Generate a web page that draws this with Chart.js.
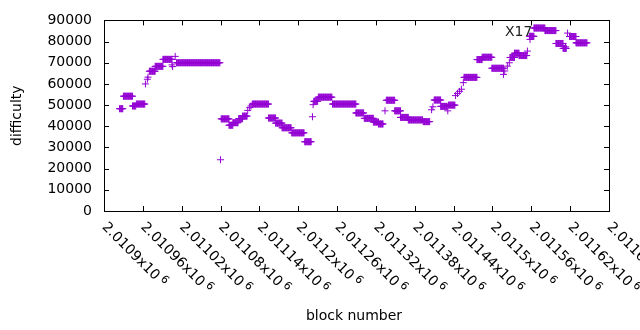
<!DOCTYPE html>
<html>
<head>
<meta charset="utf-8">
<script src="https://cdn.jsdelivr.net/npm/chart.js@4/dist/chart.umd.min.js"></script>
<style>
  html, body { margin: 0; padding: 0; background: #fff; }
  #wrap { width: 640px; height: 330px; }
</style>
</head>
<body>
<div id="wrap"><canvas id="c" width="640" height="330"></canvas></div>
<script>
// ── Data ────────────────────────────────────────────────────
// difficulty steps: block range [from, to] held at one level
const stepFrom  = [2010924, 2010930, 2010944, 2010950, 2010970, 2010979, 2010991, 2011012, 2011081, 2011093,
                   2011099, 2011108, 2011114, 2011129, 2011154, 2011165, 2011175, 2011190, 2011210, 2011224,
                   2011231, 2011253, 2011289, 2011302, 2011316, 2011324, 2011336, 2011349, 2011358, 2011370,
                   2011393, 2011410, 2011420, 2011432, 2011456, 2011476, 2011484, 2011499, 2011527, 2011534,
                   2011541, 2011557, 2011564, 2011581, 2011598, 2011609, 2011619, 2011629];
const stepTo    = [2010929, 2010944, 2010949, 2010963, 2010979, 2010991, 2011005, 2011079, 2011093, 2011099,
                   2011107, 2011114, 2011121, 2011154, 2011165, 2011175, 2011189, 2011209, 2011220, 2011230,
                   2011252, 2011289, 2011301, 2011316, 2011324, 2011331, 2011349, 2011358, 2011370, 2011392,
                   2011403, 2011420, 2011430, 2011442, 2011476, 2011484, 2011499, 2011517, 2011534, 2011541,
                   2011553, 2011564, 2011581, 2011598, 2011609, 2011614, 2011629, 2011646];
const stepLevel = [48300, 54200, 49600, 50500, 66000, 68300, 71600, 70000, 43500, 40500,
                   41700, 43600, 44800, 50500, 43900, 41500, 39300, 36900, 32700, 51800,
                   53750, 50500, 46300, 43750, 42000, 41100, 52300, 47300, 44200, 43000,
                   42200, 52400, 49400, 50000, 63100, 71500, 72600, 67400, 72500, 74500,
                   73400, 82500, 86400, 85200, 79100, 76800, 82400, 79400];

// lone blocks between the steps
const singleBlock = [2010964, 2010967, 2010968, 2011005, 2011006, 2011010, 2011080, 2011122, 2011125, 2011127,
                     2011222, 2011223, 2011334, 2011406, 2011408, 2011431, 2011443, 2011446, 2011449, 2011452,
                     2011455, 2011517, 2011519, 2011523, 2011526, 2011554, 2011558, 2011613, 2011616];
const singleValue = [60000, 62200, 63200, 69000, 68200, 73000, 24200, 47500, 48800, 49600,
                     44500, 50200, 47300, 47800, 49200, 47300, 54500, 55500, 56500, 57500,
                     60600, 64500, 66100, 68400, 70000, 75500, 81000, 77500, 84000];

const xTickPrefix = ['2.0109', '2.01096', '2.01102', '2.01108', '2.01114', '2.0112', '2.01126',
                     '2.01132', '2.01138', '2.01144', '2.0115', '2.01156', '2.01162', '2.01168'];
const xTickValues = [2010900, 2010960, 2011020, 2011080, 2011140, 2011200, 2011260,
                     2011320, 2011380, 2011440, 2011500, 2011560, 2011620, 2011680];
const yTickValues = [0, 10000, 20000, 30000, 40000, 50000, 60000, 70000, 80000, 90000];

// ── Build points ────────────────────────────────────────────
const points = [];
stepFrom.forEach((from, i) => {
  for (let b = from; b <= stepTo[i]; b++) points.push({ x: b, y: stepLevel[i] });
});
singleBlock.forEach((b, i) => points.push({ x: b, y: singleValue[i] }));
points.sort((a, b) => a.x - b.x);

const FONT = '14px "DejaVu Sans", sans-serif';

// ── Frame, ticks, rotated labels, titles ────────────────────
const gnuFrame = {
  id: 'gnuFrame',
  afterDraw(chart) {
    const { ctx, chartArea: a, scales } = chart;
    const xs = scales.x, ys = scales.y;
    ctx.save();
    ctx.strokeStyle = '#000';
    ctx.lineWidth = 1;
    ctx.beginPath();
    xTickValues.forEach(v => {
      const px = Math.round(xs.getPixelForValue(v)) + 0.5;
      if (px > a.right + 1) return;
      ctx.moveTo(px, a.bottom); ctx.lineTo(px, a.bottom - 5);
      ctx.moveTo(px, a.top); ctx.lineTo(px, a.top + 5);
    });
    yTickValues.forEach(v => {
      const py = Math.round(ys.getPixelForValue(v)) + 0.5;
      ctx.moveTo(a.left, py); ctx.lineTo(a.left + 5, py);
      ctx.moveTo(a.right, py); ctx.lineTo(a.right - 5, py);
    });
    ctx.stroke();
    ctx.strokeRect(Math.round(a.left) + 0.5, Math.round(a.top) + 0.5,
                   Math.round(a.right - a.left), Math.round(a.bottom - a.top));

    // x tick labels, rotated clockwise
    ctx.fillStyle = '#000';
    xTickValues.forEach((v, i) => {
      const px = xs.getPixelForValue(v);
      ctx.save();
      ctx.translate(px, a.bottom + 14);
      ctx.rotate(Math.PI / 4);
      ctx.font = FONT;
      ctx.textAlign = 'left';
      ctx.textBaseline = 'middle';
      const main = xTickPrefix[i] + 'x10';
      ctx.fillText(main, 0, 0);
      const w = ctx.measureText(main).width;
      ctx.font = '11px "DejaVu Sans", sans-serif';
      ctx.fillText('6', w + 3, -4);
      ctx.restore();
    });

    // axis titles
    ctx.font = FONT;
    ctx.textAlign = 'center';
    ctx.textBaseline = 'middle';
    ctx.fillText('block number', 354, 316);
    ctx.save();
    ctx.translate(17, (a.top + a.bottom) / 2);
    ctx.rotate(-Math.PI / 2);
    ctx.fillText('difficulty', 0, 0);
    ctx.restore();

    // label in the plot
    ctx.textAlign = 'left';
    ctx.fillStyle = '#222';
    ctx.fillText('X17', 505, 32);
    ctx.restore();
  }
};

new Chart(document.getElementById('c'), {
  type: 'scatter',
  data: {
    datasets: [{
      data: points,
      pointStyle: 'cross',
      pointRadius: 3.5,
      pointBorderWidth: 1,
      borderColor: '#9400d3',
      backgroundColor: '#9400d3',
      showLine: false,
    }]
  },
  options: {
    responsive: false,
    animation: false,
    layout: { padding: { top: 19, right: 31, bottom: 0, left: 0 } },
    plugins: { legend: { display: false }, tooltip: { enabled: false } },
    scales: {
      x: {
        type: 'linear',
        min: 2010900,
        max: 2011680,
        grid: { display: false },
        border: { display: false },
        ticks: { display: false },
        afterFit(scale) { scale.height = 119; },
      },
      y: {
        min: 0,
        max: 90000,
        grid: { display: false, drawTicks: false },
        border: { display: false },
        ticks: {
          stepSize: 10000,
          padding: 12,
          color: '#000',
          font: { family: '"DejaVu Sans", sans-serif', size: 14 },
          callback: v => String(v),
        },
        afterFit(scale) { scale.width = 104; },
      }
    }
  },
  plugins: [gnuFrame]
});
</script>
</body>
</html>
